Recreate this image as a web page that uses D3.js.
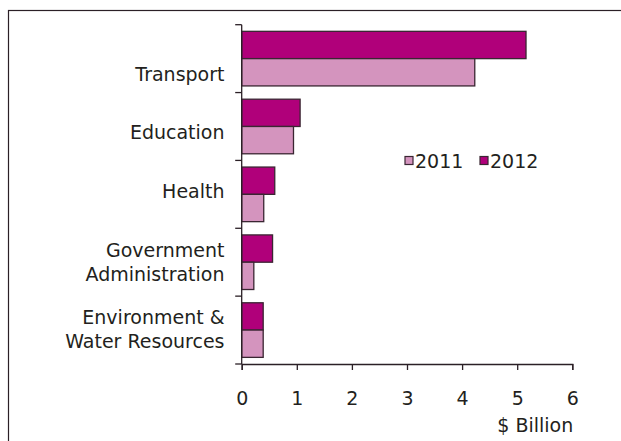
<!DOCTYPE html>
<html>
<head>
<meta charset="utf-8">
<script src="https://cdn.jsdelivr.net/npm/d3@7"></script>
<style>
  html, body { margin: 0; padding: 0; background: #fff; }
  svg { display: block; }
  text { font-family: "DejaVu Sans", Verdana, sans-serif; fill: #231f20; }
</style>
</head>
<body>
<svg id="chart" width="621" height="441"></svg>
<script>
// Spending by sector, $ billion
const categories = [
  ["Transport"],
  ["Education"],
  ["Health"],
  ["Government", "Administration"],
  ["Environment &", "Water Resources"]
];
const seriesNames = ["2012", "2011"];
const values2011 = [4.23, 0.94, 0.40, 0.22, 0.39];
const values2012 = [5.16, 1.06, 0.60, 0.56, 0.39];
const xTicks = [0, 1, 2, 3, 4, 5, 6];
const xTitle = "$ Billion";
const legendOrder = ["2011", "2012"];

const colors = { "2011": "#d494be", "2012": "#b0007a" };
const ink = "#2b2026";
const fontSize = 19;

const svg = d3.select("#chart");

// outer frame (runs past the right and bottom edges)
svg.append("rect")
  .attr("x", 8.5).attr("y", 10.5)
  .attr("width", 700).attr("height", 500)
  .attr("fill", "none").attr("stroke", ink).attr("stroke-width", 1.2);

const plotLeft = 241.7, plotRight = 572.3, plotTop = 24.7, plotBottom = 364;

const x = d3.scaleLinear().domain([0, 6]).range([plotLeft, plotRight]);
const catKeys = categories.map(c => c.join(" "));
const y = d3.scaleBand().domain(catKeys).range([plotTop, plotBottom]).padding(0);
const ySub = d3.scaleBand().domain(seriesNames).range([0, y.bandwidth()])
  .paddingInner(0).paddingOuter(0.243);

const rows = [];
catKeys.forEach((k, i) => {
  rows.push({ cat: k, series: "2012", value: values2012[i] });
  rows.push({ cat: k, series: "2011", value: values2011[i] });
});

// bars
svg.append("g").selectAll("rect").data(rows).join("rect")
  .attr("x", x(0))
  .attr("y", d => y(d.cat) + ySub(d.series))
  .attr("width", d => x(d.value) - x(0))
  .attr("height", ySub.bandwidth())
  .attr("fill", d => colors[d.series])
  .attr("stroke", "#3a2632").attr("stroke-width", 1.3);

// category axis: boundary ticks between groups
const yAxisG = svg.append("g").attr("stroke", ink).attr("stroke-width", 1.3);
yAxisG.append("line")
  .attr("x1", plotLeft).attr("x2", plotLeft).attr("y1", plotTop).attr("y2", plotBottom);
const bounds = catKeys.map(k => y(k)).concat([plotBottom]);
yAxisG.selectAll("line.tick").data(bounds).join("line")
  .attr("class", "tick")
  .attr("x1", plotLeft - 6.5).attr("x2", plotLeft).attr("y1", d => d).attr("y2", d => d);

// category labels
const labelShift = [15, 6, -3, 0, -1];
const lineH = 24;
const labelX = 224.5;
const labels = svg.append("g").attr("text-anchor", "end").attr("font-size", fontSize);
categories.forEach((lines, i) => {
  const cy = y(catKeys[i]) + y.bandwidth() / 2 + labelShift[i];
  const t = labels.append("text")
    .attr("x", labelX)
    .attr("y", cy - (lines.length - 1) * lineH / 2 + 6.9);
  lines.forEach((ln, j) => {
    t.append("tspan").attr("x", labelX).attr("dy", j === 0 ? 0 : lineH).text(ln);
  });
});

// value axis
const xAxis = d3.axisBottom(x).tickValues(xTicks).tickSize(6).tickPadding(22)
  .tickFormat(d3.format("d"));
const xg = svg.append("g").attr("transform", `translate(0,${plotBottom})`).call(xAxis);
xg.select(".domain").attr("stroke", ink).attr("stroke-width", 1.3);
xg.selectAll(".tick line").attr("stroke", ink).attr("stroke-width", 1.3);
xg.selectAll(".tick text")
  .attr("font-size", fontSize).attr("font-family", "DejaVu Sans, Verdana, sans-serif")
  .attr("fill", "#231f20");

svg.append("text")
  .attr("x", plotRight + 1).attr("y", 432)
  .attr("text-anchor", "end").attr("font-size", fontSize)
  .text(xTitle);

// legend
const lg = svg.append("g").attr("font-size", fontSize);
const legendX = [405, 480];
legendOrder.forEach((s, i) => {
  lg.append("rect")
    .attr("x", legendX[i]).attr("y", 156.5)
    .attr("width", 8).attr("height", 8)
    .attr("fill", colors[s]).attr("stroke", "#3a2632").attr("stroke-width", 1.2);
  lg.append("text")
    .attr("x", legendX[i] + 10).attr("y", 167.8)
    .text(s);
});
</script>
</body>
</html>
